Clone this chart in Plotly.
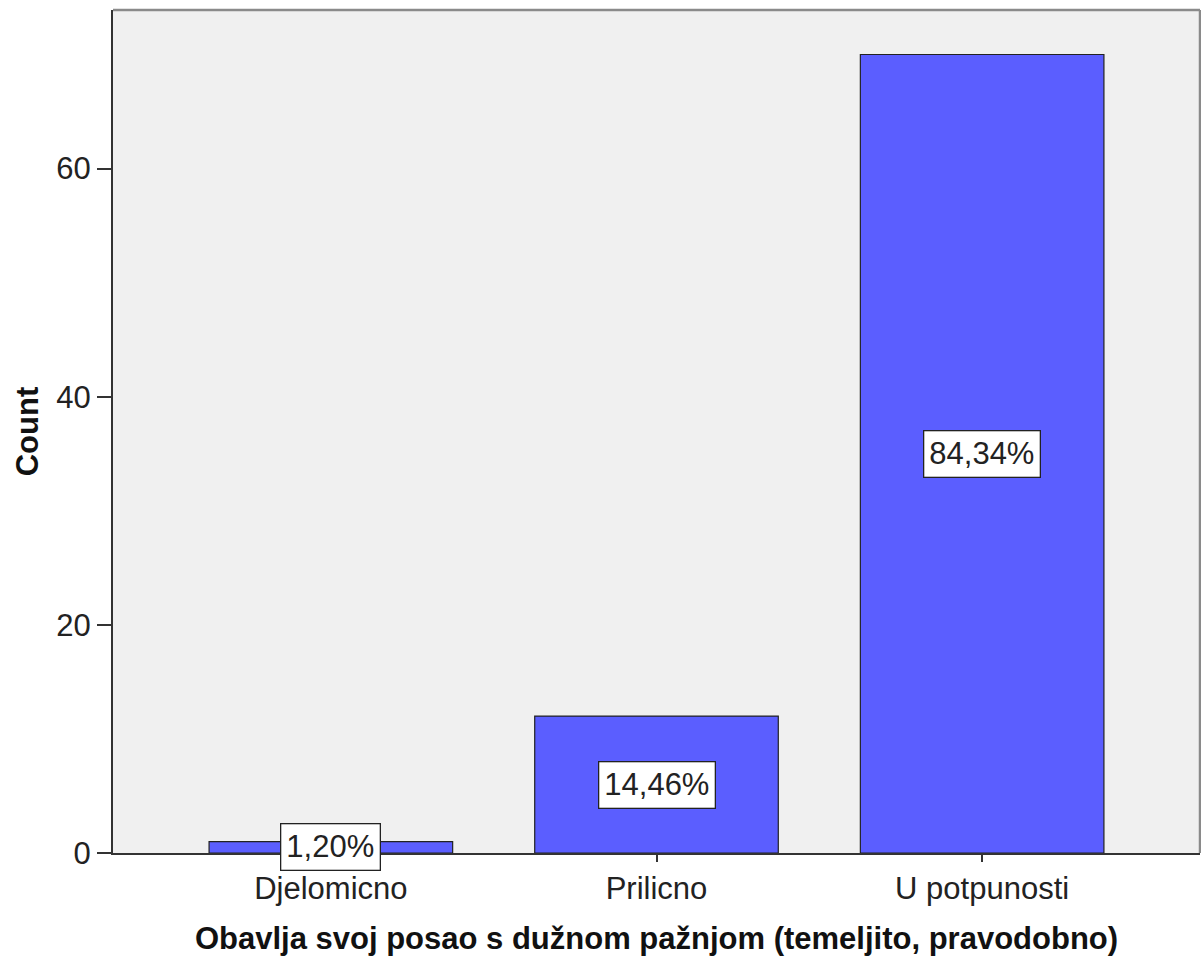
import plotly.graph_objects as go

categories = ["Djelomicno", "Prilicno", "U potpunosti"]
counts = [1, 12, 70]
pct_labels = ["1,20%", "14,46%", "84,34%"]
y_ticks = [0, 20, 40, 60]

FONT = "Liberation Sans, Arial, sans-serif"

fig = go.Figure()
fig.add_trace(go.Bar(
    x=categories, y=counts, width=0.748,
    marker=dict(color="#5b5eff", line=dict(color="#222222", width=1.2)),
    hoverinfo="skip", showlegend=False,
))

for c, v, t in zip(categories, counts, pct_labels):
    fig.add_annotation(
        x=c, y=v / 2, text=t, showarrow=False,
        font=dict(family=FONT, size=31, color="#222222"),
        bgcolor="white", bordercolor="#222222", borderwidth=1.3, borderpad=5,
    )

fig.update_layout(
    width=1201, height=962,
    margin=dict(l=113, r=1, t=10, b=109),
    paper_bgcolor="white", plot_bgcolor="#f0f0f0",
    font=dict(family=FONT, color="#222222"),
    xaxis=dict(
        type="category", range=[-0.669, 2.669],
        showgrid=False, zeroline=False,
        showline=True, linecolor="#333333", linewidth=2,
        ticks="outside", ticklen=7, tickwidth=1.5, tickcolor="#333333",
        tickfont=dict(size=31, color="#222222"),
        title=dict(text="<b>Obavlja svoj posao s dužnom pažnjom (temeljito, pravodobno)</b>",
                   font=dict(size=31, color="#111111"), standoff=22),
    ),
    yaxis=dict(
        range=[0, 73.9], tickvals=y_ticks,
        showgrid=False, zeroline=False,
        showline=True, linecolor="#333333", linewidth=2,
        ticks="outside", ticklen=14, tickwidth=1.5, tickcolor="#333333",
        tickfont=dict(size=31, color="#222222"),
        title=dict(text="<b>Count</b>", font=dict(size=31, color="#111111"), standoff=8),
    ),
)

# top and right frame (lighter gray)
fig.add_shape(type="line", xref="paper", yref="paper", x0=0, x1=1, y0=1, y1=1,
              line=dict(color="#8a8a8a", width=2.5))
fig.add_shape(type="line", xref="paper", yref="paper", x0=1, x1=1, y0=0, y1=1,
              line=dict(color="#8a8a8a", width=2.5))

fig.write_html(
    "out.html",
    config={"displayModeBar": False},
    post_script="document.body.style.margin='0px';document.body.style.overflow='hidden';",
)
